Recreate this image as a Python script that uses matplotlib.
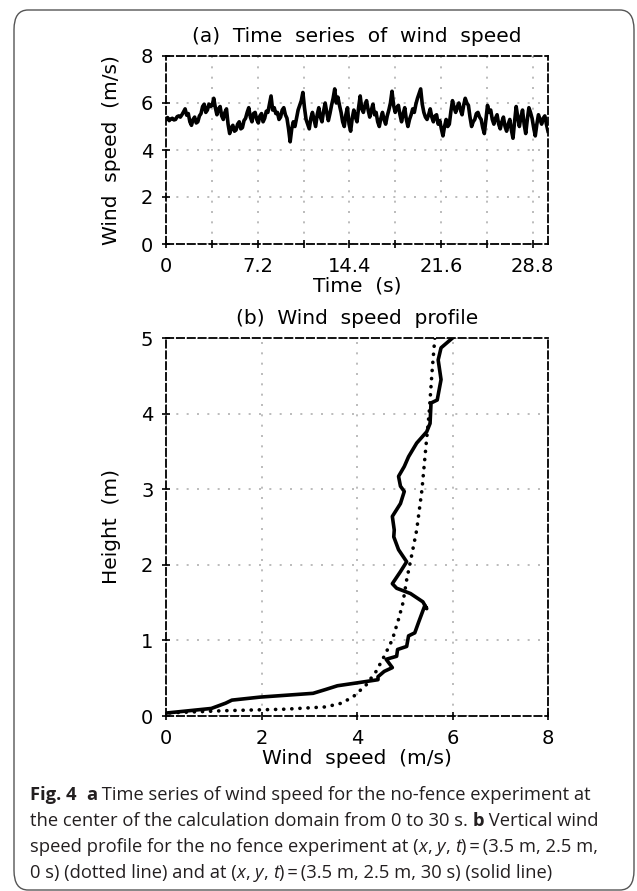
import numpy as np
import matplotlib
matplotlib.use("Agg")
import matplotlib.pyplot as plt
import matplotlib.ticker as mticker
from matplotlib.patches import FancyBboxPatch

# (a) time series of wind speed (0 - 30 s, evenly sampled)
speed_ts = [5.30, 5.38, 5.25, 5.32, 5.35, 5.28, 5.30, 5.42, 5.45, 5.40,
            5.50, 5.62, 5.75, 5.48, 5.55, 5.20, 5.05, 5.30, 5.40, 5.15,
            5.20, 5.45, 5.55, 5.85, 5.95, 5.60, 5.70, 5.95, 5.85, 5.90,
            6.20, 5.80, 5.50, 5.75, 5.85, 5.45, 5.30, 5.60, 5.75, 5.10,
            4.70, 4.95, 5.05, 4.80, 4.85, 5.10, 5.20, 4.90, 4.95, 5.25,
            5.35, 5.60, 5.80, 5.40, 5.20, 5.55, 5.60, 5.30, 5.15, 5.45,
            5.55, 5.20, 5.35, 5.65, 5.60, 5.95, 6.30, 5.70, 5.80, 5.55,
            5.60, 5.30, 5.40, 5.70, 5.80, 5.50, 5.35, 4.90, 4.35, 4.90,
            5.20, 5.00, 5.35, 5.70, 5.90, 6.10, 6.45, 5.80, 5.30, 5.10,
            4.90, 5.35, 5.60, 5.30, 5.00, 5.50, 5.80, 5.40, 5.20, 5.65,
            6.00, 5.60, 5.25, 5.55, 5.90, 6.20, 6.60, 6.00, 6.25, 5.90,
            5.60, 5.20, 5.00, 5.50, 5.80, 5.10, 4.80, 5.35, 5.70, 5.40,
            5.20, 5.80, 6.30, 5.75, 5.60, 5.90, 6.10, 5.70, 5.40, 5.70,
            5.95, 5.50, 5.60, 5.20, 5.00, 5.35, 5.60, 5.30, 5.10, 5.45,
            5.70, 6.00, 6.50, 5.90, 5.60, 5.80, 5.90, 5.50, 5.20, 5.55,
            5.80, 5.30, 5.00, 5.30, 5.50, 5.75, 5.60, 5.95, 6.20, 6.40,
            6.60, 5.95, 5.60, 5.40, 5.30, 5.50, 5.75, 5.40, 5.20, 5.45,
            5.50, 5.10, 5.25, 4.90, 4.60, 5.00, 5.30, 5.00, 5.10, 5.65,
            6.10, 5.80, 5.60, 5.85, 6.00, 5.70, 5.50, 5.90, 6.20, 6.00,
            5.90, 5.40, 5.00, 5.20, 5.30, 5.55, 5.60, 5.40, 5.30, 4.95,
            4.70, 5.30, 5.90, 5.60, 5.70, 5.30, 5.10, 5.35, 5.50, 5.10,
            4.90, 5.20, 5.40, 5.00, 4.80, 5.10, 5.30, 4.85, 4.50, 5.20,
            5.85, 5.40, 5.00, 5.40, 5.70, 5.10, 4.70, 5.30, 5.80, 5.60,
            5.35, 4.95, 4.60, 5.10, 5.50, 5.30, 5.10, 5.35, 5.45, 5.10,
            4.80]
time_s = np.linspace(0, 30, len(speed_ts))

# (b) profile at t = 30 s (solid)
speed_30 = [6.00, 5.76, 5.70, 5.76, 5.68, 5.55, 5.53, 5.46, 5.25, 5.08,
            4.99, 4.87, 4.91, 4.99, 4.91, 4.74, 4.78, 4.77, 4.87, 5.04,
            4.91, 4.74, 4.83, 5.12, 5.38, 5.46, 5.42, 5.29, 5.21, 5.08,
            5.04, 4.85, 4.83, 4.61, 4.74, 4.57, 4.44, 4.44, 4.02, 3.59,
            3.34, 3.08, 1.97, 1.38, 1.25, 0.95, 0.02]
height_30 = [5.00, 4.87, 4.71, 4.45, 4.18, 4.14, 3.87, 3.76, 3.61, 3.43,
             3.30, 3.17, 3.04, 2.97, 2.81, 2.64, 2.46, 2.37, 2.20, 2.04,
             1.91, 1.75, 1.69, 1.62, 1.51, 1.42, 1.46, 1.24, 1.10, 1.06,
             0.92, 0.88, 0.79, 0.75, 0.64, 0.59, 0.52, 0.48, 0.44, 0.40,
             0.35, 0.30, 0.25, 0.21, 0.17, 0.10, 0.04]

# (b) profile at t = 0 s (dotted)
speed_0 = [5.63, 5.57, 5.51, 5.45, 5.36, 5.25, 5.14, 5.04, 4.96, 4.87,
           4.74, 4.57, 4.40, 4.19, 3.93, 3.68, 3.34, 2.49, 1.21, 0.02]
height_0 = [5.00, 4.54, 4.00, 3.61, 2.99, 2.46, 2.11, 1.80, 1.49, 1.28,
            1.01, 0.79, 0.59, 0.41, 0.26, 0.17, 0.12, 0.09, 0.07, 0.04]

W, H = 637, 891
fig = plt.figure(figsize=(W / 100, H / 100), dpi=100, facecolor="white")

# rounded caption frame (behind everything)
frame = FancyBboxPatch((14 / W, 1 / H), 620 / W, 880 / H,
                       boxstyle="round,pad=0,rounding_size=0.022",
                       transform=fig.transFigure, facecolor="none",
                       edgecolor="#555555", linewidth=1.0, zorder=-10)
fig.patches.append(frame)

FONT = "DejaVu Sans"
GRID = dict(color="#b0b0b0", linestyle=(0, (1.2, 5)), linewidth=1.2)


def style_axes(ax):
    for s in ax.spines.values():
        s.set_linestyle((0, (4, 2)))
        s.set_linewidth(1.3)
        s.set_color("black")
    ax.tick_params(which="both", direction="inout", length=6, width=1.2,
                   labelsize=14, pad=6, colors="black")
    ax.set_facecolor("none")


def px_axes(left, top, right, bottom):
    return fig.add_axes([left / W, 1 - bottom / H, (right - left) / W, (bottom - top) / H])


# ---- panel (a)
ax1 = px_axes(166, 56, 548, 244)
ax1.plot(time_s, speed_ts, color="black", linewidth=2.6)
ax1.set_xlim(0, 30)
ax1.set_ylim(0, 8)
ax1.xaxis.set_major_locator(mticker.FixedLocator([0, 7.2, 14.4, 21.6, 28.8]))
ax1.xaxis.set_minor_locator(mticker.FixedLocator([3.6, 10.8, 18.0, 25.2]))
ax1.xaxis.set_major_formatter(mticker.FixedFormatter(["0", "7.2", "14.4", "21.6", "28.8"]))
ax1.yaxis.set_major_locator(mticker.MultipleLocator(2))
ax1.grid(True, which="both", **GRID)
style_axes(ax1)
ax1.set_title("(a)  Time  series  of  wind  speed", fontsize=14.5, family=FONT, pad=10)
ax1.set_xlabel("Time  (s)", fontsize=14.5, family=FONT)
ax1.set_ylabel("Wind  speed  (m/s)", fontsize=14.5, family=FONT)
ax1.xaxis.set_label_coords(0.5, -0.175)
ax1.yaxis.set_label_coords(-0.118, 0.5)

# ---- panel (b)
ax2 = px_axes(166, 338, 548, 716)
ax2.plot(speed_30, height_30, color="black", linewidth=2.6)
ax2.plot(speed_0, height_0, color="black", linewidth=2.6,
         linestyle=(0, (0.05, 2.2)), dash_capstyle="round")
ax2.set_xlim(0, 8)
ax2.set_ylim(0, 5)
ax2.xaxis.set_major_locator(mticker.MultipleLocator(2))
ax2.yaxis.set_major_locator(mticker.MultipleLocator(1))
ax2.grid(True, **GRID)
style_axes(ax2)
ax2.set_title("(b)  Wind  speed  profile", fontsize=14.5, family=FONT, pad=10)
ax2.set_xlabel("Wind  speed  (m/s)", fontsize=14.5, family=FONT)
ax2.set_ylabel("Height  (m)", fontsize=14.5, family=FONT)
ax2.xaxis.set_label_coords(0.5, -0.088)
ax2.yaxis.set_label_coords(-0.118, 0.5)

# ---- caption with mixed styles
CAP = "Open Sans"
CAP_SIZE = 13.2
CAP_COLOR = "#231f20"
caption = [
    [("Fig. 4", "bold", "normal"), ("  ", "normal", "normal"), ("a", "bold", "normal"),
     (" Time series of wind speed for the no-fence experiment at", "normal", "normal")],
    [("the center of the calculation domain from 0 to 30 s. ", "normal", "normal"),
     ("b", "bold", "normal"), (" Vertical wind", "normal", "normal")],
    [("speed profile for the no fence experiment at (", "normal", "normal"),
     ("x", "normal", "italic"), (", ", "normal", "normal"), ("y", "normal", "italic"),
     (", ", "normal", "normal"), ("t", "normal", "italic"),
     (")\u2009=\u2009(3.5 m, 2.5 m,", "normal", "normal")],
    [("0 s) (dotted line) and at (", "normal", "normal"), ("x", "normal", "italic"),
     (", ", "normal", "normal"), ("y", "normal", "italic"), (", ", "normal", "normal"),
     ("t", "normal", "italic"), (")\u2009=\u2009(3.5 m, 2.5 m, 30 s) (solid line)", "normal", "normal")],
]
line_y = [795, 821, 847, 873]

renderer = fig.canvas.get_renderer()
for runs, yy in zip(caption, line_y):
    x = 30
    for text, weight, style in runs:
        t = fig.text(x / W, 1 - yy / H, text, fontsize=CAP_SIZE, family=CAP,
                     weight=weight, style=style, color=CAP_COLOR, va="center", ha="left")
        bb = t.get_window_extent(renderer=renderer)
        x += bb.width

fig.savefig("out.png", dpi=100)
